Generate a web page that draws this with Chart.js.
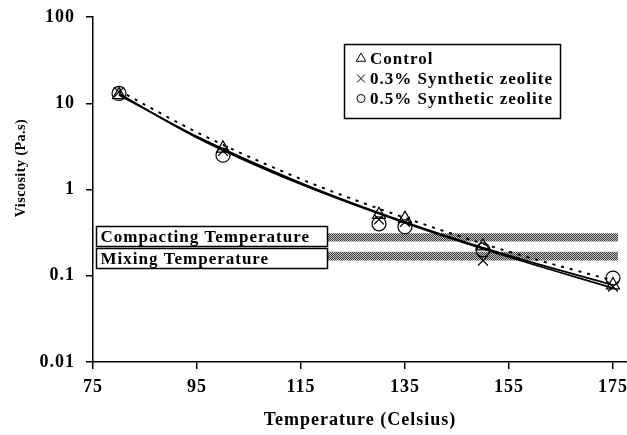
<!DOCTYPE html>
<html>
<head>
<meta charset="utf-8">
<title>Viscosity vs Temperature</title>
<script src="https://cdn.jsdelivr.net/npm/chart.js@4.4.1/dist/chart.umd.min.js"></script>
<style>
  html, body { margin: 0; padding: 0; background: #fff; }
  #wrap { width: 627px; height: 435px; position: relative; }
</style>
</head>
<body>
<div id="wrap"><canvas id="viscosityChart" width="627" height="435"></canvas></div>
<script>
var temperatures = [80, 100, 130, 135, 150, 175];
var controlVisc = [12.5, 3.0, 0.51, 0.46, 0.22, 0.078];
var zeolite03Visc = [13.5, 2.8, 0.45, 0.42, 0.15, 0.075];
var zeolite05Visc = [13.0, 2.5, 0.40, 0.37, 0.20, 0.094];

// trend curves, sampled at these temperatures
var trendTemps = [80, 95, 115, 135, 155, 175];
var controlTrend = [12.5, 4.1, 1.19, 0.42, 0.171, 0.078];
var zeolite03Trend = [12.9, 4.0, 1.15, 0.41, 0.165, 0.072];
var zeolite05Trend = [14.0, 4.6, 1.32, 0.47, 0.19, 0.088];

var xTicks = [75, 95, 115, 135, 155, 175];
var yTicks = [0.01, 0.1, 1, 10, 100];

// viscosity windows for compaction and mixing
var compactRange = [0.25, 0.31];
var mixRange = [0.15, 0.19];
var rangeTemps = [120, 176];
var rangeLabels = ['Compacting Temperature', 'Mixing Temperature'];
var seriesLabels = ['Control', '0.3% Synthetic zeolite', '0.5% Synthetic zeolite'];

var SERIF = '"Liberation Serif", "Times New Roman", serif';
Chart.defaults.font.family = SERIF;
Chart.defaults.color = '#000';

function toPoints(xs, ys) {
  var pts = [];
  for (var i = 0; i < xs.length; i++) {
    pts.push({ x: xs[i], y: ys[i] });
  }
  return pts;
}

function makeHatch(ctx) {
  var tile = document.createElement('canvas');
  tile.width = 2;
  tile.height = 2;
  var g = tile.getContext('2d');
  g.fillStyle = '#c4c4c4';
  g.fillRect(0, 0, 2, 2);
  g.fillStyle = '#3c3c3c';
  g.fillRect(0, 0, 1, 1);
  g.fillRect(1, 1, 1, 1);
  return ctx.createPattern(tile, 'repeat');
}

function markerSet(label, values, style, radius) {
  return {
    label: label,
    data: toPoints(temperatures, values),
    showLine: false,
    pointStyle: style,
    pointRadius: radius,
    pointBorderColor: '#000',
    pointBackgroundColor: 'rgba(255,255,255,0)',
    pointBorderWidth: 1.2,
    order: 0
  };
}

function trendSet(values, dash) {
  return {
    label: 'trend',
    data: toPoints(trendTemps, values),
    borderColor: '#000',
    borderWidth: dash ? 2 : 1.8,
    borderDash: dash || [],
    pointRadius: 0,
    cubicInterpolationMode: 'monotone',
    fill: false,
    order: 1
  };
}

function bandSet(value, fillTarget, pattern) {
  return {
    label: 'range',
    data: toPoints(rangeTemps, [value, value]),
    borderWidth: 0,
    borderColor: 'rgba(0,0,0,0)',
    pointRadius: 0,
    backgroundColor: pattern,
    fill: fillTarget,
    order: 2
  };
}

// the old bitmap serif text is spaced out a little
var spacingPlugin = {
  id: 'spacing',
  beforeLayout: function (chart) { chart.ctx.letterSpacing = '1px'; },
  beforeDraw: function (chart) { chart.ctx.letterSpacing = '1px'; }
};

// white label boxes beside the bands, the y title and the boxed legend
var overlayPlugin = {
  id: 'overlay',
  afterDatasetsDraw: function (chart) {
    var ctx = chart.ctx;
    var xs = chart.scales.x;
    var ys = chart.scales.y;
    var area = chart.chartArea;
    ctx.save();
    ctx.letterSpacing = '1px';

    var compactMid = (ys.getPixelForValue(compactRange[0]) + ys.getPixelForValue(compactRange[1])) / 2;
    var boxLeft = area.left + 3.5;
    var boxRight = Math.round(xs.getPixelForValue(rangeTemps[0])) + 0.5;
    ctx.font = 'bold 17px ' + SERIF;
    ctx.textBaseline = 'middle';
    for (var i = 0; i < rangeLabels.length; i++) {
      var top = Math.round(compactMid - 11 + i * 22) + 0.5;
      ctx.fillStyle = '#fff';
      ctx.fillRect(boxLeft, top, boxRight - boxLeft, 20);
      ctx.strokeStyle = '#000';
      ctx.lineWidth = 1.5;
      ctx.strokeRect(boxLeft, top, boxRight - boxLeft, 20);
      ctx.fillStyle = '#000';
      ctx.fillText(rangeLabels[i], boxLeft + 4, top + 11);
    }

    // y axis title
    ctx.save();
    ctx.translate(21, 168);
    ctx.rotate(-Math.PI / 2);
    ctx.textAlign = 'center';
    ctx.letterSpacing = '0.5px';
    ctx.font = 'bold 14px ' + SERIF;
    ctx.fillText('Viscosity (Pa.s)', 0, 0);
    ctx.restore();

    // legend
    var lx = 344.5, ly = 44.5, lw = 216, lh = 74;
    ctx.fillStyle = '#fff';
    ctx.fillRect(lx, ly, lw, lh);
    ctx.strokeStyle = '#000';
    ctx.lineWidth = 1.5;
    ctx.strokeRect(lx, ly, lw, lh);
    ctx.font = 'bold 17px ' + SERIF;
    ctx.textAlign = 'left';
    for (var j = 0; j < seriesLabels.length; j++) {
      var ds = chart.data.datasets[j];
      var rowY = ly + 14 + j * 20;
      ctx.strokeStyle = '#000';
      ctx.fillStyle = 'rgba(255,255,255,0)';
      ctx.lineWidth = 1;
      Chart.helpers.drawPoint(ctx, {
        pointStyle: ds.pointStyle,
        radius: ds.pointStyle === 'circle' ? 4 : 5.5,
        borderWidth: 1
      }, 361, rowY);
      ctx.fillStyle = '#000';
      ctx.fillText(seriesLabels[j], 370, rowY + 1);
    }
    ctx.restore();
  }
};

var canvas = document.getElementById('viscosityChart');
var ctx = canvas.getContext('2d');
var hatch = makeHatch(ctx);

var chart = new Chart(ctx, {
  type: 'line',
  data: {
    datasets: [
      markerSet(seriesLabels[0], controlVisc, 'triangle', 7.5),
      markerSet(seriesLabels[1], zeolite03Visc, 'crossRot', 7),
      markerSet(seriesLabels[2], zeolite05Visc, 'circle', 7),
      trendSet(controlTrend),
      trendSet(zeolite03Trend),
      trendSet(zeolite05Trend, [3, 6]),
      bandSet(compactRange[1], '+1', hatch),
      bandSet(compactRange[0], false, hatch),
      bandSet(mixRange[1], '+1', hatch),
      bandSet(mixRange[0], false, hatch)
    ]
  },
  options: {
    responsive: false,
    animation: false,
    devicePixelRatio: 1,
    layout: { autoPadding: false, padding: { top: 17, right: 0, left: 0, bottom: 0 } },
    plugins: {
      legend: { display: false },
      tooltip: { enabled: false }
    },
    scales: {
      x: {
        type: 'linear',
        min: 75,
        max: 177.7,
        afterBuildTicks: function (scale) {
          scale.ticks = xTicks.map(function (v) { return { value: v }; });
        },
        afterFit: function (scale) {
          // let the axis run to the canvas edge
          scale.height = 73;
          scale.paddingLeft = 0;
          scale.paddingRight = 0;
        },
        grid: { drawOnChartArea: false, tickLength: 7, color: '#000', lineWidth: 1.5 },
        border: { color: '#000', width: 1.5 },
        ticks: { font: { size: 18, weight: 'bold' }, color: '#000', padding: 8, maxRotation: 0 },
        title: {
          display: true,
          text: 'Temperature (Celsius)',
          font: { size: 18, weight: 'bold' },
          padding: { top: 9 }
        }
      },
      y: {
        type: 'logarithmic',
        min: 0.01,
        max: 100,
        afterBuildTicks: function (scale) {
          scale.ticks = yTicks.map(function (v) { return { value: v }; });
        },
        afterFit: function (scale) {
          scale.width = 93;
          scale.paddingTop = 0;
          scale.paddingBottom = 0;
        },
        grid: { drawOnChartArea: false, tickLength: 7, color: '#000', lineWidth: 1.5 },
        border: { color: '#000', width: 1.5 },
        ticks: {
          font: { size: 18, weight: 'bold' },
          color: '#000',
          padding: 11,
          callback: function (value) { return String(value); }
        }
      }
    }
  },
  plugins: [spacingPlugin, overlayPlugin]
});
</script>
</body>
</html>
